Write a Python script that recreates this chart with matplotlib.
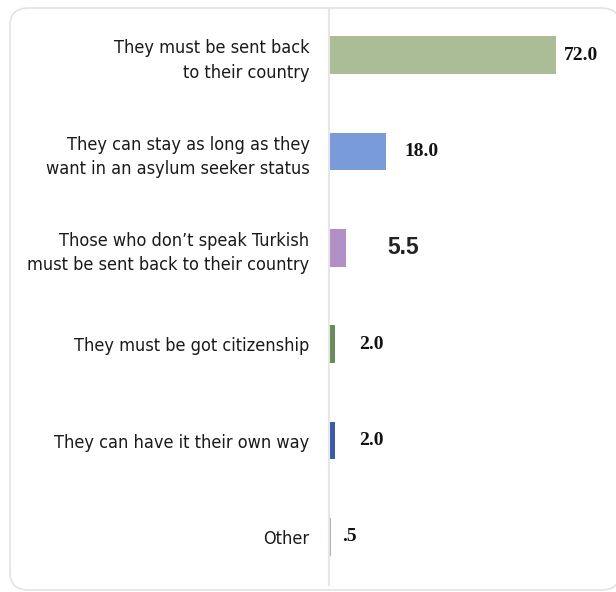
import matplotlib.pyplot as plt
from matplotlib.patches import FancyBboxPatch

# Answers and shares (%)
answers = [
    "They must be sent back\nto their country",
    "They can stay as long as they\nwant in an asylum seeker status",
    "Those who don\u2019t speak Turkish\nmust be sent back to their country",
    "They must be got citizenship",
    "They can have it their own way",
    "Other",
]
shares = [72.0, 18.0, 5.5, 2.0, 2.0, 0.5]
value_labels = ["72.0", "18.0", "5.5", "2.0", "2.0", ".5"]

colors = ["#abbd96", "#7a9bd9", "#b08fc6", "#6b8a5a", "#3a5ba8", "#b9a2cc"]
label_gap = [2.5, 6.0, 13.0, 7.5, 7.5, 3.8]

fig = plt.figure(figsize=(6.16, 5.92), dpi=100)

# light rounded frame around the chart
frame = FancyBboxPatch((10 / 616, 2 / 592), 0.99, 1 - 10 / 592,
                       boxstyle="round,pad=0,rounding_size=0.03",
                       transform=fig.transFigure, facecolor="white",
                       edgecolor="#e3e3e3", linewidth=1.2, zorder=-10)
fig.patches.append(frame)

ax = fig.add_axes([329 / 616, 7 / 592, 283.5 / 616, 577 / 592])
ax.set_facecolor("none")

pos = list(range(len(shares)))
ax.barh(pos, shares, height=0.39, color=colors)

ax.set_xlim(0, 90)
ax.set_ylim(5.5, -0.49)

for s in ["top", "right", "bottom"]:
    ax.spines[s].set_visible(False)
ax.spines["left"].set_color("#e6e6e6")
ax.spines["left"].set_linewidth(1.5)
ax.set_xticks([])
ax.set_yticks(pos)
ax.set_yticklabels(answers, fontsize=13, family="DejaVu Sans", fontstretch="condensed",
                   color="#1a1a1a", linespacing=1.45)
ax.tick_params(axis="y", length=0, pad=14)

for i, (v, txt) in enumerate(zip(shares, value_labels)):
    if txt == "5.5":
        ax.text(v + label_gap[i], i, txt, va="center", ha="left", fontsize=16.5,
                fontweight="bold", family="Liberation Sans", color="#222222")
    else:
        ax.text(v + label_gap[i], i, txt, va="center", ha="left", fontsize=14,
                fontweight="bold", family="Liberation Serif", color="#111111")

fig.savefig("out.png", dpi=100)
